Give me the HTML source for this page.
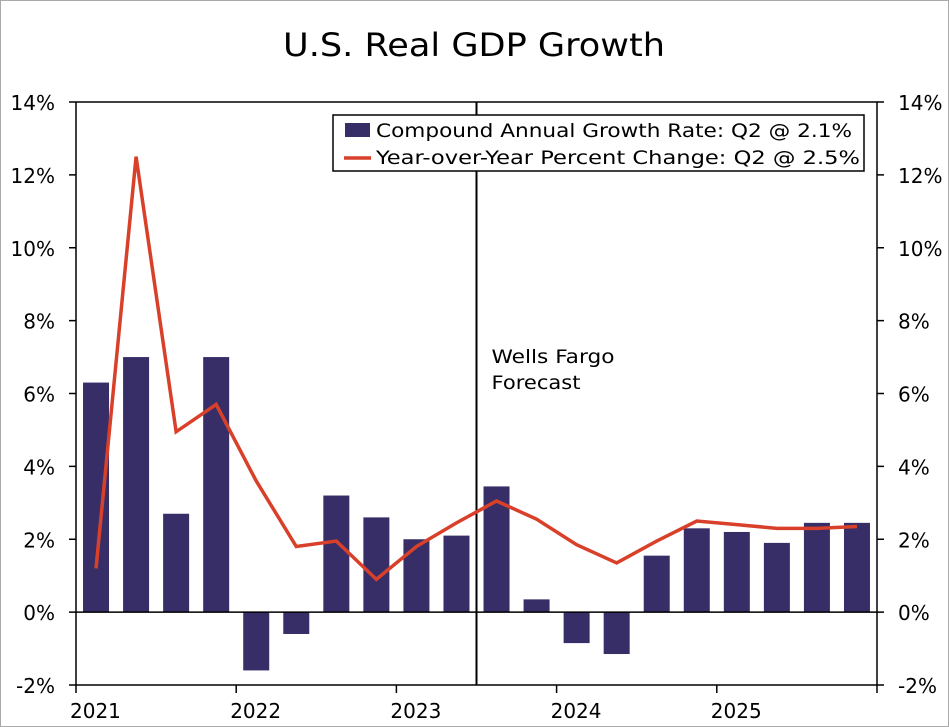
<!DOCTYPE html>
<html><head><meta charset="utf-8"><style>
body{margin:0;background:#fff;}
svg{display:block;font-family:"DejaVu Sans","Liberation Sans",sans-serif;}
</style></head><body>
<svg id="chart" width="949" height="727">
<rect x="0.5" y="0.5" width="948" height="726" fill="none" stroke="#aaa"/>
<text x="283" y="56" textLength="382" lengthAdjust="spacingAndGlyphs" font-size="32" fill="#000">U.S. Real GDP Growth</text>
<g id="g"></g>
</svg>
<script>
const categories=["2021Q1","2021Q2","2021Q3","2021Q4","2022Q1","2022Q2","2022Q3","2022Q4","2023Q1","2023Q2","2023Q3","2023Q4","2024Q1","2024Q2","2024Q3","2024Q4","2025Q1","2025Q2","2025Q3","2025Q4"];
const saarValues=[6.3,7.0,2.7,7.0,-1.6,-0.6,3.2,2.6,2.0,2.1,3.45,0.35,-0.85,-1.15,1.55,2.3,2.2,1.9,2.45,2.45];
const yoyValues=[1.2,12.5,4.95,5.7,3.6,1.8,1.95,0.9,1.8,2.45,3.05,2.55,1.85,1.35,1.95,2.5,2.4,2.3,2.3,2.35];
const yTicks=[-2,0,2,4,6,8,10,12,14];
const yearLabels=["2021","2022","2023","2024","2025"];
const forecastStart=10;
const NS="http://www.w3.org/2000/svg";
const g=document.getElementById('g');
const L=76,R=877,T=102,B=685,ymin=-2,ymax=14;
const y=v=>B-(v-ymin)/(ymax-ymin)*(B-T);
const qw=(R-L)/categories.length;
const xc=i=>L+qw*(i+0.5);
function mk(t,a,p){const e=document.createElementNS(NS,t);for(const k in a)e.setAttribute(k,a[k]);(p||g).appendChild(e);return e;}
// bars
saarValues.forEach((v,i)=>{
 const r=mk('rect',{x:xc(i)-13,y:Math.min(y(v),y(0)),width:26,height:Math.abs(y(v)-y(0)),fill:'#372e68'});
 
 
});
// axes
const ax=mk('path',{d:`M${L},${T}V${B}H${R}V${T}H${L}M${L},${y(0)}H${R}`,stroke:'#000','stroke-width':1.5,fill:'none'});


yTicks.forEach(t=>{
 const yy=y(t);
 mk('path',{d:`M${L-7},${yy}H${L}M${R},${yy}H${R+7}`,stroke:'#000','stroke-width':1.5});
 const a=mk('text',{x:L-21,y:yy+8,'text-anchor':'end','font-size':20});a.textContent=t+'%';
 
 
 const b=mk('text',{x:R+21,y:yy+8,'font-size':20});b.textContent=t+'%';
 
 
});
for(let k=0;k<=yearLabels.length;k++){
 const xx=L+qw*4*k;
 mk('path',{d:`M${xx},${B}V${B+8}`,stroke:'#000','stroke-width':1.5});
 if(k<yearLabels.length){const t=mk('text',{x:xx-6,y:B+33,'font-size':20});t.textContent=yearLabels[k];
 
 }
}
// forecast line
const fx=L+qw*forecastStart;
const fl=mk('path',{d:`M${fx},${T}V${B}`,stroke:'#000','stroke-width':2});


const ft=mk('text',{x:fx+15,y:363,'font-size':19,textLength:123,lengthAdjust:'spacingAndGlyphs'});ft.textContent='Wells Fargo';


const ft2=mk('text',{x:fx+15,y:389,'font-size':19,textLength:89,lengthAdjust:'spacingAndGlyphs'});ft2.textContent='Forecast';


// yoy line
const ln=mk('polyline',{points:yoyValues.map((v,i)=>xc(i)+','+y(v)).join(' '),fill:'none',stroke:'#d9402a','stroke-width':3.5,'stroke-linejoin':'miter'});


// legend
const lg=mk('g',{});


mk('rect',{x:333,y:115,width:531,height:56,fill:'#fff',stroke:'#000','stroke-width':1.5},lg);
mk('rect',{x:345,y:123,width:25,height:14,fill:'#372e68'},lg);
const l1=mk('text',{x:376,y:137,'font-size':19,textLength:476,lengthAdjust:'spacingAndGlyphs'},lg);l1.textContent='Compound Annual Growth Rate: Q2 @ 2.1%';


mk('path',{d:'M344,158H371',stroke:'#d9402a','stroke-width':3.5},lg);
const l2=mk('text',{x:376,y:164,'font-size':19,textLength:484,lengthAdjust:'spacingAndGlyphs'},lg);l2.textContent='Year-over-Year Percent Change: Q2 @ 2.5%';


</script>
</body></html>
